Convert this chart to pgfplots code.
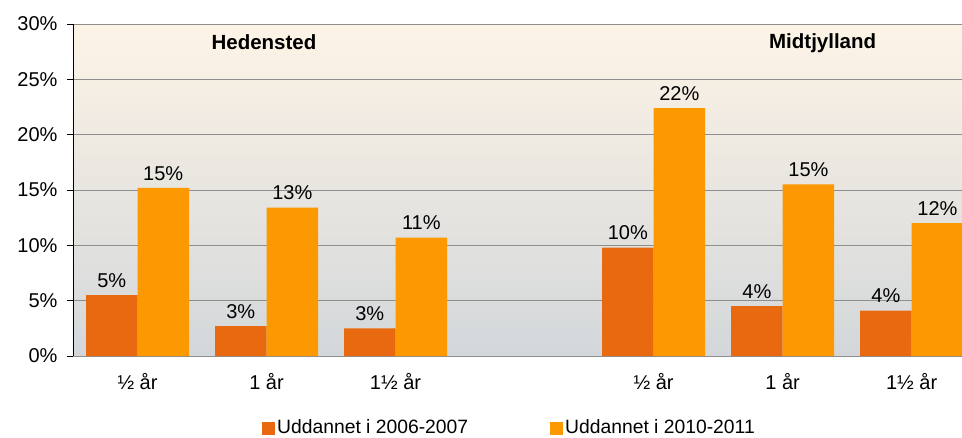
\documentclass[border=0pt]{standalone}
\usepackage{pgfplots}
\pgfplotsset{compat=1.18}
\usepackage{pgfplotstable}
\usepackage{fontspec}
\setmainfont{Liberation Sans}
\definecolor{darkor}{HTML}{E8690F}
\definecolor{lightor}{HTML}{FC9900}
\definecolor{bgtop}{HTML}{FDF4E6}
\definecolor{bgbot}{HTML}{D3D7DA}
\definecolor{gridc}{HTML}{8E8E8E}
\pgfplotstableread{
x a la b lb
0 5.5 5\% 15.2 15\%
1 2.7 3\% 13.4 13\%
2 2.5 3\% 10.7 11\%
4 9.8 10\% 22.4 22\%
5 4.5 4\% 15.5 15\%
6 4.1 4\% 12.0 12\%
}\datatab
\begin{document}
\begin{tikzpicture}
\useasboundingbox (0,0) rectangle (962pt,437pt);
\begin{axis}[
  at={(73pt,81pt)}, anchor=south west,
  scale only axis, width=889pt, height=332pt,
  xmin=-0.5, xmax=6.39, ymin=0, ymax=30,
  ybar=0pt, bar width=51.5pt,
  axis background/.style={shade, top color=bgtop, bottom color=bgbot},
  axis x line*=bottom, axis y line*=left,
  x axis line style={draw=gridc, line width=1pt, -},
  y axis line style={draw=black, line width=0.8pt, -},
  ytick={0,5,10,15,20,25,30},
  yticklabels={0\%,5\%,10\%,15\%,20\%,25\%,30\%},
  ytick style={draw=black, line width=0.8pt},
  tick align=outside, major tick length=6pt,
  xtick={0,1,2,4,5,6},
  xticklabels={½ år,1 år,1½ år,½ år,1 år,1½ år},
  xtick style={draw=none},
  ymajorgrids, grid style={draw=gridc, line width=1pt},
  yticklabel style={font=\fontsize{20}{24}\selectfont, anchor=east, xshift=-6pt},
  xticklabel style={font=\fontsize{20}{24}\selectfont, anchor=north, yshift=-8pt},
  nodes near coords, point meta=explicit symbolic,
  every node near coord/.append style={font=\fontsize{20}{24}\selectfont, black, yshift=4pt},
  legend style={draw=none, fill=none, at={(0.2126,-0.186)}, anchor=north west,
    font=\fontsize{19.3}{23}\selectfont, legend columns=2,
    /tikz/every even column/.append style={column sep=80pt},
    inner sep=0pt},
  legend image code/.code={\fill[#1] (0pt,-7pt) rectangle (13pt,6pt);},
  clip=true,
]
\addplot[fill=darkor, draw=none] table[x=x, y=a, meta=la] {\datatab};
\addplot[fill=lightor, draw=none] table[x=x, y=b, meta=lb] {\datatab};
\legend{Uddannet i 2006-2007, Uddannet i 2010-2011}
\node[font=\bfseries\fontsize{20.5}{24}\selectfont] at (axis cs:0.98,28.35) {Hedensted};
\node[font=\bfseries\fontsize{20.5}{24}\selectfont] at (axis cs:5.31,28.3) {Midtjylland};
\end{axis}
\end{tikzpicture}
\end{document}
